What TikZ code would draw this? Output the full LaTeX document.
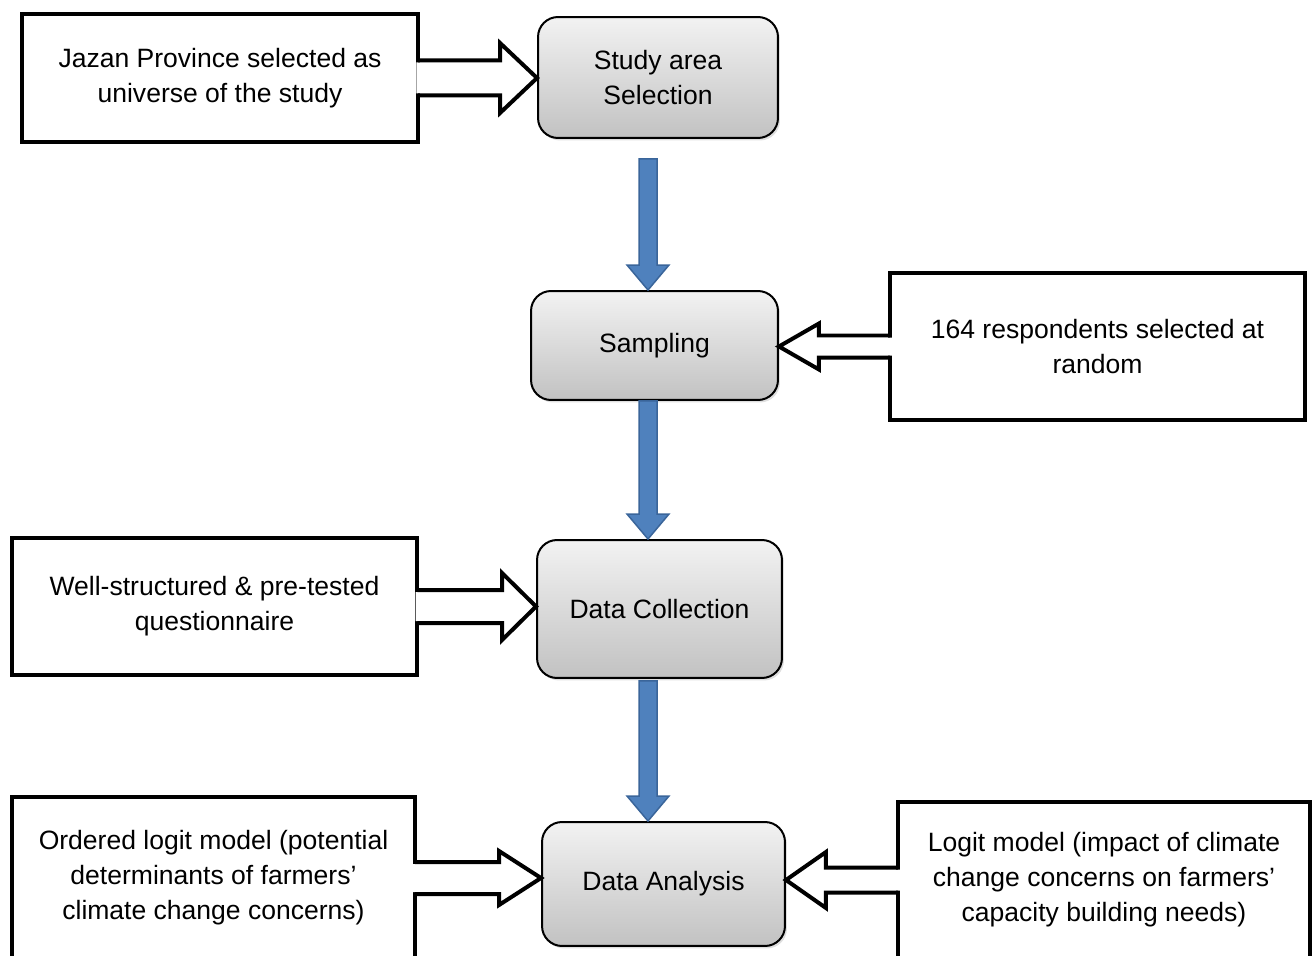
\documentclass[tikz,border=0pt]{standalone}
\usepackage{fontspec}
\setmainfont{Liberation Sans}
\usetikzlibrary{
  calc,
  shadows
}
\definecolor{fcBlue}{HTML}{4F81BD}
\definecolor{fcBlueEdge}{HTML}{3A659A}
\tikzset{
  fctext/.style={font=\fontsize{15.1}{19.9}\selectfont, align=center},
  stepbox/.style={
    fctext, draw, rounded corners=0.4cm, line width=0.04cm,
    top color=black!5, bottom color=black!24,
    drop shadow={opacity=0.25, shadow xshift=0.04cm, shadow yshift=-0.05cm}
  },
  infobox/.style={fctext, draw, line width=0.08cm, fill=white},
  hollowline/.style={line width=0.08cm, line join=miter},
  blueflow/.style={fill=fcBlue, draw=fcBlueEdge, line width=0.03cm, line join=miter}
}
% white block arrow: #1 source, #2 tip, #3 half shaft, #4 half head, #5 head length (signed)
\newcommand{\inarrow}[5]{%
  \fill[white] ($(#1)+({-0.1*(#5)},{-(#3)+2})$) -- ($(#2)+({-(#5)},{-(#3)+2})$)
    -- ($(#2)+({-(#5)},{-(#4)})$) -- (#2) -- ($(#2)+({-(#5)},{#4})$)
    -- ($(#2)+({-(#5)},{(#3)-2})$) -- ($(#1)+({-0.1*(#5)},{(#3)-2})$) -- cycle;
  \draw[hollowline] ($(#1)+({-0.05*(#5)},{-(#3)})$) -- ($(#2)+({-(#5)},{-(#3)})$)
    -- ($(#2)+({-(#5)},{-(#4)})$) -- (#2) -- ($(#2)+({-(#5)},{#4})$)
    -- ($(#2)+({-(#5)},{#3})$) -- ($(#1)+({-0.05*(#5)},{#3})$);
}
% blue block arrow pointing down: #1 start, #2 tip
\newcommand{\flowarrow}[2]{%
  \filldraw[blueflow] ($(#1)+(-9,0)$) -- ($(#2)+(-9,-25)$) -- ($(#2)+(-21,-25)$)
    -- (#2) -- ($(#2)+(21,-25)$) -- ($(#2)+(9,-25)$) -- ($(#1)+(9,0)$) -- cycle;
}
\begin{document}
\begin{tikzpicture}[x=0.02cm, y=-0.02cm]
  \useasboundingbox (0,0) rectangle (1312,956);

  % side boxes
  \node[infobox, minimum width=7.92cm, minimum height=2.56cm] (jazan) at (220,78) {Jazan Province selected as\\universe of the study};
  \node[infobox, minimum width=8.3cm, minimum height=2.94cm] (resp) at (1097.5,346.5) {164 respondents selected at\\random};
  \node[infobox, minimum width=8.1cm, minimum height=2.74cm] (quest) at (214.5,606.5) {Well-structured \& pre-tested\\questionnaire};
  \node[infobox, minimum width=8.06cm, minimum height=3.24cm] (ologit) at (213.5,878) {Ordered logit model (potential\\determinants of farmers'\\climate change concerns)};
  \node[infobox, minimum width=8.24cm, minimum height=3.12cm] (logit) at (1104,880) {Logit model (impact of climate\\change concerns on farmers'\\capacity building needs)};

  % main steps
  \node[stepbox, minimum width=4.8cm, minimum height=2.42cm] (study) at (658,77.5) {Study area\\Selection};
  \node[stepbox, minimum width=4.94cm, minimum height=2.18cm] (samp) at (654.5,345.5) {Sampling};
  \node[stepbox, minimum width=4.9cm, minimum height=2.76cm] (dc) at (659.5,609) {Data Collection};
  \node[stepbox, minimum width=4.86cm, minimum height=2.48cm] (da) at (663.5,884) {Data Analysis};

  % inputs
  \inarrow{jazan.east}{study.west |- jazan.east}{17.5}{35}{37}
  \inarrow{resp.west}{samp.east |- resp.west}{11}{23}{-40}
  \inarrow{quest.east}{dc.west |- quest.east}{16.5}{33.5}{34}
  \inarrow{ologit.east}{da.west |- ologit.east}{16}{27}{42}
  \inarrow{logit.west}{da.east |- logit.west}{12.5}{28}{-40}

  % flow
  \coordinate (spine) at (648,0);
  \coordinate (f1) at ($(study.south -| spine)+(0,20)$);
  \coordinate (f2) at (samp.south -| spine);
  \coordinate (f3) at ($(dc.south -| spine)+(0,2)$);
  \flowarrow{f1}{samp.north -| spine}
  \flowarrow{f2}{dc.north -| spine}
  \flowarrow{f3}{da.north -| spine}
\end{tikzpicture}
\end{document}
